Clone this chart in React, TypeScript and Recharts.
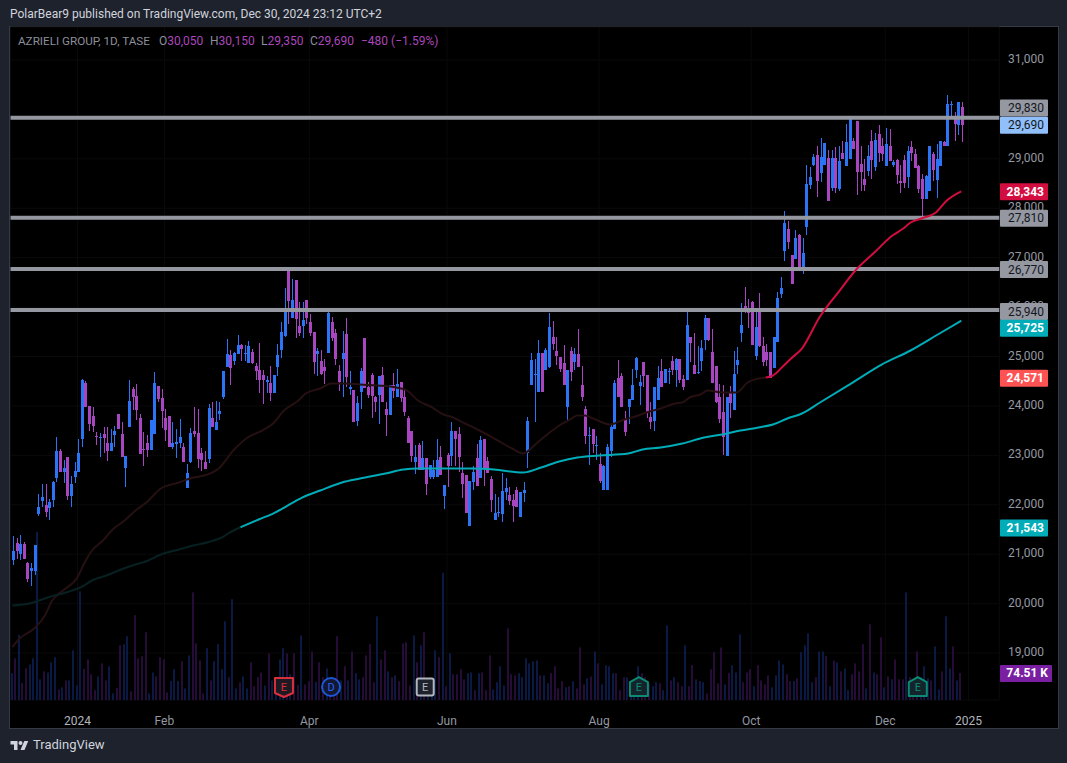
import {
  Bar,
  CartesianGrid,
  ComposedChart,
  Line,
  ReferenceDot,
  ReferenceLine,
  XAxis,
  YAxis,
} from 'recharts';

const FONT = 'Roboto, "Noto Sans", sans-serif';

const UP = '#2b74f6';
const DOWN = '#a845c0';
const UP_VOL = '#0b1a44';
const DOWN_VOL = '#260d38';

// open, high, low, close per session
const ohlc: number[][] = [
  [20880,21360,20790,21070],[21220,21330,20910,21060],[21010,21380,20880,21200],[21200,21250,20910,20910],[20830,20850,20430,20490],
  [20670,20830,20350,20730],[20670,21180,20570,21180],[21820,22220,21780,21950],[22070,22430,21950,22150],[21990,22430,21750,21860],
  [21930,22110,21700,22050],[22090,22490,21950,22470],[22550,23380,22470,23080],[23080,23120,22670,22670],[22670,22900,22450,22750],
  [22960,22960,22090,22170],[22170,22590,21950,22430],[22570,22860,22450,22690],[22670,23340,22670,23040],[23340,24540,23160,24530],
  [24470,24510,23970,23970],[23990,23990,23500,23630],[23790,23970,23480,23600],[23400,23480,23200,23380],[23360,23460,22960,23380],
  [23440,23580,23040,23360],[23260,23580,22880,23080],[23080,23540,23080,23260],[23420,23600,23160,23500],[23830,23830,23540,23540],
  [23440,23670,22960,22960],[22750,22980,22350,22980],[23580,24530,23580,24110],[24350,24390,23910,24190],[24210,24450,23710,23910],
  [23750,23830,23020,23020],[23130,23480,22790,23110],[23260,23420,22960,23100],[23100,23710,23100,23710],[23440,24680,23440,24470],
  [24410,24410,24070,24150],[24170,24350,23560,23890],[23750,23930,23300,23520],[23790,23790,23160,23160],[23160,23670,23120,23260],
  [23240,23540,22940,23280],[23260,23730,23140,23380],[23160,23260,22860,22860],[22330,22820,22330,22650],[22860,23560,22840,23460],
  [23500,23970,23380,23440],[23460,23930,22750,22920],[23040,23140,22690,22900],[22860,23080,22730,22730],[22920,24030,22840,23950],
  [23750,24070,23580,23580],[23520,24110,23520,23670],[23830,24070,23710,23890],[24190,24700,24150,24700],[24780,25360,24780,25060],
  [25040,25140,24430,24760],[24900,25100,24820,25080],[25060,25430,25060,25240],[25240,25260,24900,25160],[25070,25240,24900,25080],
  [24860,25320,24860,25220],[25100,25160,24840,24860],[24800,24860,24520,24700],[24720,25280,24270,24530],[24620,24720,24030,24530],
  [24490,24600,24270,24530],[24470,24800,24110,24270],[24270,24620,24270,24620],[24780,25260,24600,25040],[25140,25690,24980,25490],
  [25410,26380,25400,25950],[26740,26740,25650,26130],[25770,26560,25770,26150],[26540,26540,25370,25750],[25610,26110,25410,25470],
  [25610,26110,25370,25730],[26150,26150,25650,25770],[25690,25870,25410,25470],[25490,25490,24640,24880],[25060,25180,24600,25120],
  [24900,25140,24620,24640],[24780,24940,24450,24700],[25080,25930,25080,25890],[25690,25790,25320,25380],[25470,25550,24820,24960],
  [24700,24820,24310,24490],[24960,25510,24190,25080],[25450,25770,24390,24580],[24350,24700,24230,24390],[24330,24330,23670,23670],
  [23690,24210,23600,24050],[24290,24760,23930,24700],[25370,25370,24370,24370],[24390,24490,24170,24230],[24620,24660,23750,24210],
  [24190,24210,23870,24070],[24230,24600,23630,24600],[24620,24780,24070,24070],[23930,24090,23400,23810],[23810,24430,23810,24430],
  [24430,24660,24170,24310],[24190,24740,24190,24450],[24490,24490,24090,24170],[24190,24330,23790,23870],[23750,23790,23260,23260],
  [23500,23500,22860,22980],[22860,23200,22630,22960],[23200,23260,22710,22710],[22710,23300,22710,22940],[22940,22940,22190,22430],
  [22570,22800,22530,22800],[22570,22900,22530,22710],[22570,23340,22570,22900],[22960,23180,22610,22610],[22170,22410,21910,22410],
  [23000,23040,22370,22780],[22980,23680,22780,23500],[23500,23500,22780,23340],[23440,23580,22670,22960],[22650,22860,22130,22430],
  [22610,22610,21840,21840],[21580,22490,21580,22490],[22470,22780,22290,22670],[22940,23220,22390,22390],[22550,23400,22550,23320],
  [23340,23340,22390,22750],[22880,22960,22650,22650],[22530,22590,21860,22090],[21700,22210,21700,21840],[21830,22150,21760,21850],
  [21820,22650,21660,22270],[22250,22550,22090,22330],[22190,22370,21990,22070],[22090,22210,21660,21970],[22290,22350,21950,21950],
  [21760,22250,21760,22250],[22230,22470,22050,22290],[23040,23770,22750,23690],[24430,25080,24430,24920],[24630,24940,23670,24650],
  [24290,25340,24290,25080],[25080,25080,24290,24290],[24720,25180,24720,25140],[24780,25890,24760,25590],[25390,25710,25140,25260],
  [25120,25390,24820,25020],[25000,25000,24680,24740],[24860,25240,24430,24430],[23970,24720,23710,24720],[25120,25200,24500,24680],
  [24880,25180,24720,25060],[25060,25550,24780,24780],[24430,24800,24110,24190],[23930,23990,23220,23400],[23400,23580,22800,23420],
  [23540,23540,23040,23240],[23190,23400,22900,23200],[22820,23040,22450,22490],[22290,22800,22290,22790],[22290,23220,22290,23160],
  [23080,23620,22960,23580],[23540,24530,23540,24470],[24560,24920,24190,24190],[24600,24660,23970,23970],[23730,23890,23400,23480],
  [23970,24150,23630,24150],[24130,24740,24130,24430],[24720,25000,24560,24980],[24410,24620,24010,24490],[24880,24880,24390,24600],
  [24620,24620,23750,23850],[23770,24070,23540,23670],[23690,24390,23500,24390],[24130,24800,24130,24570],[24700,24940,24390,24390],
  [24470,24740,24470,24740],[24680,24760,24450,24700],[24900,25020,24620,24720],[24720,24980,24390,24960],[24960,24960,24470,24520],
  [24540,24620,24330,24390],[24520,25930,24520,25630],[25390,25390,24880,25280],[24820,25470,24640,24640],[24660,25220,24650,24680],
  [24900,25340,24700,25180],[25340,25850,25140,25770],[25770,25770,25320,25340],[25100,25550,24470,24470],[24800,24800,24050,24090],
  [24190,24450,23650,23730],[23870,24430,23000,23380],[22980,24190,22980,24190],[24290,24410,23750,24050],[23910,25120,23910,24640],
  [24820,25200,24640,24920],[25470,26090,25300,25630],[26030,26400,25890,25930],[25970,26170,25570,25890],[26110,26130,25240,25240],
  [25020,25930,24920,25590],[25930,26280,25200,25220],[25220,25400,24800,24880],[25100,25260,24800,24920],[25100,25100,24560,24560],
  [24760,25400,24760,25400],[25300,26300,25300,26190],[26260,26600,26190,26380],[27130,27950,26940,27710],[27590,27750,27170,27310],
  [27060,27060,26460,26460],[26980,27570,26980,27390],[27450,27470,26820,26820],[26760,27390,26680,27090],[27630,28870,27450,28500],
  [28480,28830,28380,28640],[28870,29100,28860,29030],[29070,29250,28220,28560],[28720,29430,28540,29030],[28870,29330,28870,29330],
  [29010,29170,28140,28140],[28420,29170,28340,29010],[29010,29230,28300,28420],[28400,29270,28340,28950],[29110,29370,28990,28990],
  [28850,29700,28850,29350],[28990,29840,28990,29800],[29370,29430,29190,29190],[29760,29760,28260,28740],[28890,29270,28340,28740],
  [28600,28990,28340,28480],[28760,29290,28660,29050],[29370,29590,28600,28970],[28830,29530,28760,29390],[29510,29680,28930,29110],
  [29250,29430,28950,29090],[28850,29630,28850,29310],[29270,29610,28950,28950],[28870,28970,28830,28930],[28970,28990,28500,28680],
  [28560,28870,28300,28520],[28970,29070,28420,28520],[28640,29250,28420,29150],[29230,29370,28950,29110],[29090,29190,28820,28820],
  [28850,28870,28300,28380],[28600,28700,27790,28180],[28180,28680,28180,28660],[28340,29270,28340,29250],[29090,29140,28560,28780],
  [28580,29310,28200,28990],[28850,29370,28850,29370],[29350,29370,29270,29270],[29270,30300,29270,30100],[30110,30180,29800,30120],
  [29820,29940,29370,29710],[29680,30160,29490,30160],[30050,30150,29350,29690],
];

// thousands of shares per session
const volumes = [
  74,115,180,47,88,98,115,464,57,79,
  76,104,118,29,35,54,54,137,40,300,
  86,112,71,27,65,101,54,93,18,33,
  151,154,176,24,234,115,121,187,18,76,
  65,118,112,21,52,85,52,107,32,123,
  297,156,109,18,143,54,107,154,85,217,
  63,278,32,49,65,32,104,38,63,76,
  40,129,54,45,112,143,129,71,129,42,
  178,43,52,134,50,104,63,87,50,45,
  176,54,93,54,134,74,57,63,123,154,
  49,231,112,137,79,63,68,52,156,159,
  40,178,104,151,187,45,40,137,118,351,
  38,129,71,71,85,57,74,76,27,74,
  76,27,123,29,49,93,40,198,71,68,
  74,63,115,101,107,109,68,68,46,74,
  93,32,52,35,38,52,32,145,43,60,
  65,134,101,43,96,93,74,74,27,63,
  63,50,50,93,74,63,45,38,49,46,
  27,206,54,63,49,38,151,38,96,57,
  52,49,18,85,132,46,145,43,74,96,
  76,181,49,76,85,38,96,54,43,68,
  35,68,109,98,71,52,52,60,132,151,
  184,49,63,134,134,121,38,109,104,79,
  87,27,71,101,79,154,32,209,76,71,
  173,35,65,57,112,57,57,297,63,54,
  134,63,93,60,54,148,29,79,231,87,
  148,54,74.51,
];

const ma50Bars = [0,2,6,9,11,14,18,20,22,25,28,31,34,37,41,46,50,53,57,61,65,69,72,75,79,81,85,88,92,96,101,106,109,112,116,119,121,125,129,134,138,141,145,148,151,154,156,158,161,165,169,172,175,179,183,185,187,190,192,196,200,203,206,208,210,213,215,218,223,228,233,238,243,246,248,251,255,258,262];
const ma50Values = [19118,19294,19496,19759,20063,20265,20534,20838,21075,21277,21520,21682,21884,22046,22329,22451,22552,22592,22734,23098,23361,23503,23645,23908,24110,24252,24353,24454,24454,24434,24413,24373,24312,24110,23968,23827,23786,23645,23503,23301,23139,23038,23260,23442,23604,23726,23807,23807,23726,23624,23726,23786,23867,23948,24049,24070,24171,24231,24312,24272,24272,24474,24555,24575,24616,24818,24960,25162,25810,26295,26761,27105,27449,27590,27712,27793,27914,28157,28343];
const ma50BrightFrom = 208;

const ma200Bars = [0,5,10,15,19,22,26,30,34,37,41,46,50,54,58,60,63,68,72,76,80,85,91,96,103,108,112,120,127,133,141,146,151,156,162,170,174,179,185,191,196,201,206,210,214,218,223,232,240,248,256,262];
const ma200Values = [19962,20008,20130,20231,20332,20468,20569,20690,20791,20858,20994,21095,21176,21243,21344,21439,21546,21702,21823,21985,22147,22289,22451,22532,22633,22714,22734,22734,22734,22714,22653,22754,22876,22957,22997,23038,23118,23159,23240,23361,23422,23503,23564,23624,23746,23847,24070,24474,24838,25122,25466,25725];
const ma200BrightFrom = 63;

const SLOTS = 273;

const PRICE_DOMAIN = [18050, 31668];
// 30,000 sits fully behind the 29,830 tag in the source chart
const priceTicks = [31000,29000,28000,27000,26000,25000,24000,23000,22000,21000,20000,19000];

const timeTickBars = [18,42,82,120,162,204,241,264];
const timeTickLabels = ['2024','Feb','Apr','Jun','Aug','Oct','Dec','2025'];

const levels = [29830, 27810, 26770, 25940];

const priceTags = [
  { price: 29830, text: '29,830', bg: '#9598a1', fg: '#131722', bold: false },
  { price: 29690, text: '29,690', bg: '#90bff9', fg: '#131722', bold: false },
  { price: 28343, text: '28,343', bg: '#d30d3f', fg: '#ffffff', bold: true },
  { price: 27810, text: '27,810', bg: '#9598a1', fg: '#131722', bold: false },
  { price: 26770, text: '26,770', bg: '#9598a1', fg: '#131722', bold: false },
  { price: 25940, text: '25,940', bg: '#9598a1', fg: '#131722', bold: false },
  { price: 25725, text: '25,725', bg: '#00acb8', fg: '#ffffff', bold: true },
  { price: 24571, text: '24,571', bg: '#ff5252', fg: '#ffffff', bold: true },
  { price: 21543, text: '21,543', bg: '#00acb8', fg: '#ffffff', bold: true },
];
const tagNudge: Record<number, number> = { 29830: -10.3, 25725: 7, 25940: 1 };

const events = [
  { bar: 75, letter: 'E', kind: 'miss' },
  { bar: 88, letter: 'D', kind: 'dividend' },
  { bar: 114, letter: 'E', kind: 'neutral' },
  { bar: 173, letter: 'E', kind: 'beat' },
  { bar: 250, letter: 'E', kind: 'beat' },
];
const EVENT_PRICE = 18313;

const rows = Array.from({ length: SLOTS }, (_, bar) => {
  const candle = ohlc[bar];
  const ma50At = ma50Bars.indexOf(bar);
  const ma200At = ma200Bars.indexOf(bar);
  const ma50 = ma50At >= 0 ? ma50Values[ma50At] : null;
  const ma200 = ma200At >= 0 ? ma200Values[ma200At] : null;
  return {
    bar,
    candle: candle ? [candle[2], candle[1]] : null,
    ohlc: candle ?? null,
    volume: candle ? volumes[bar] : null,
    ma50Dim: bar <= ma50BrightFrom ? ma50 : null,
    ma50Bright: bar >= ma50BrightFrom ? ma50 : null,
    ma200Dim: bar <= ma200BrightFrom ? ma200 : null,
    ma200Bright: bar >= ma200BrightFrom ? ma200 : null,
  };
});

function CandleShape(props: any) {
  const { x, y, width, height, payload } = props;
  if (!payload?.ohlc) return null;
  const [open, high, low, close] = payload.ohlc;
  const cx = Math.round(x + width / 2 - 0.5) + 0.5;
  const perPrice = height / (high - low);
  const toY = (p: number) => Math.round(y + (high - p) * perPrice);
  const color = close >= open ? UP : DOWN;
  const top = toY(Math.max(open, close));
  const bodyH = Math.max(toY(Math.min(open, close)) - top, 1);
  return (
    <g>
      <line x1={cx} x2={cx} y1={toY(high)} y2={toY(low)} stroke={color} strokeWidth={1} />
      <rect x={cx - 1.5} y={top} width={3} height={bodyH} fill={color} />
    </g>
  );
}

function VolumeShape(props: any) {
  const { x, y, width, height, payload } = props;
  if (!payload?.ohlc || !height) return null;
  const [open, , , close] = payload.ohlc;
  const left = Math.round(x + width / 2 - 1);
  return <rect x={left} y={y} width={2} height={height} fill={close >= open ? UP_VOL : DOWN_VOL} />;
}

function TimeTick(props: any) {
  const { x, y, payload } = props;
  const label = timeTickLabels[timeTickBars.indexOf(payload.value)];
  const isYear = label === '2024' || label === '2025';
  return (
    <text x={x} y={y + 17} textAnchor="middle" fontFamily={FONT} fontSize={12} fill={isYear ? '#b2b5be' : '#9598a1'}>
      {label}
    </text>
  );
}

function PriceTick(props: any) {
  const { y, payload } = props;
  return (
    <text x={1008} y={y + 3} fontFamily={FONT} fontSize={12} fill="#9598a1">
      {payload.value.toLocaleString('en-US')}
    </text>
  );
}

function Tag(props: any) {
  const { viewBox, text, bg, fg, bold, nudge = 0, tagWidth = 48 } = props;
  const left = viewBox.x + viewBox.width + 0.7;
  const cy = viewBox.y + nudge + 0.5;
  return (
    <g>
      <rect x={left} y={cy - 8.5} width={tagWidth} height={17} rx={1} fill={bg} />
      <text
        x={left + tagWidth - 4}
        y={cy + 4}
        textAnchor="end"
        fontFamily={FONT}
        fontSize={12}
        fontWeight={bold ? 700 : 400}
        fill={fg}
      >
        {text}
      </text>
    </g>
  );
}

function EventBadge(props: any) {
  const { cx, cy, letter, kind } = props;
  const palette: Record<string, { stroke: string; fill: string; text: string }> = {
    miss: { stroke: '#d9303e', fill: '#1f1a22', text: '#d9303e' },
    dividend: { stroke: '#1f56d8', fill: '#111830', text: '#2962ff' },
    neutral: { stroke: '#b2b5be', fill: '#1e222d', text: '#b2b5be' },
    beat: { stroke: '#0c8a74', fill: '#13242a', text: '#0c8a74' },
  };
  const c = palette[kind];
  let outline = <rect x={cx - 8.5} y={cy - 8.5} width={17} height={17} rx={2} fill={c.fill} stroke={c.stroke} strokeWidth={2} />;
  if (kind === 'dividend') {
    outline = <circle cx={cx} cy={cy} r={9} fill={c.fill} stroke={c.stroke} strokeWidth={2} />;
  } else if (kind === 'miss') {
    outline = (
      <path
        d={`M${cx - 9} ${cy - 9}H${cx + 9}V${cy + 6}L${cx} ${cy + 10}L${cx - 9} ${cy + 6}Z`}
        fill={c.fill}
        stroke={c.stroke}
        strokeWidth={2}
        strokeLinejoin="round"
      />
    );
  } else if (kind === 'beat') {
    outline = (
      <path
        d={`M${cx - 9} ${cy + 9}H${cx + 9}V${cy - 5}L${cx} ${cy - 10}L${cx - 9} ${cy - 5}Z`}
        fill={c.fill}
        stroke={c.stroke}
        strokeWidth={2}
        strokeLinejoin="round"
      />
    );
  }
  return (
    <g>
      {outline}
      <text x={cx} y={cy + 4} textAnchor="middle" fontFamily={FONT} fontSize={11} fill={c.text}>
        {letter}
      </text>
    </g>
  );
}

const chartMargin = { top: 27, left: 10.5, right: 17.7, bottom: 36 };

const legendStyle: React.CSSProperties = {
  position: 'absolute',
  top: 33,
  height: 16,
  fontSize: 12,
  lineHeight: '16px',
  color: '#8c8f99',
  whiteSpace: 'nowrap',
};

export default function App() {
  return (
    <div
      style={{
        position: 'absolute',
        left: 0,
        top: 0,
        width: 1067,
        height: 763,
        background: '#1e222d',
        overflow: 'hidden',
        fontFamily: FONT,
      }}
    >
      <div style={{ position: 'absolute', left: 10, top: 6, fontSize: 12, lineHeight: '16px', color: '#d1d4dc', whiteSpace: 'nowrap' }}>
        PolarBear9 published on TradingView.com, Dec 30, 2024 23:12 UTC+2
      </div>

      {/* pane frame */}
      <div
        style={{
          position: 'absolute',
          left: 9,
          top: 26,
          width: 1048,
          height: 701,
          background: '#000',
          border: '1px solid #363a45',
        }}
      />

      <div style={{ position: 'absolute', left: 0, top: 0 }}>
        <ComposedChart width={1067} height={763} data={rows} margin={chartMargin} barCategoryGap={0}>
          <CartesianGrid yAxisId="price" stroke="#0a0a0c" />
          <XAxis
            dataKey="bar"
            type="category"
            ticks={timeTickBars}
            interval={0}
            axisLine={false}
            tickLine={false}
            height={27}
            tick={<TimeTick />}
          />
          <YAxis
            yAxisId="price"
            orientation="right"
            domain={PRICE_DOMAIN}
            ticks={priceTicks}
            interval={0}
            allowDataOverflow
            axisLine={false}
            tickLine={false}
            width={50}
            tick={<PriceTick />}
          />
          <YAxis yAxisId="volume" hide domain={[0, 1857]} allowDataOverflow />

          {levels.map((level) => (
            <ReferenceLine key={level} yAxisId="price" y={level} stroke="#9598a1" strokeWidth={4} />
          ))}

          <Bar yAxisId="volume" dataKey="volume" shape={<VolumeShape />} isAnimationActive={false} />

          <Line yAxisId="price" type="monotone" dataKey="ma50Dim" stroke="#261012" strokeWidth={2} dot={false} connectNulls isAnimationActive={false} />
          <Line yAxisId="price" type="monotone" dataKey="ma50Bright" stroke="#d30d3f" strokeWidth={2} dot={false} connectNulls isAnimationActive={false} />
          <Line yAxisId="price" type="monotone" dataKey="ma200Dim" stroke="#072122" strokeWidth={2} dot={false} connectNulls isAnimationActive={false} />
          <Line yAxisId="price" type="monotone" dataKey="ma200Bright" stroke="#00acb8" strokeWidth={2} dot={false} connectNulls isAnimationActive={false} />

          <Bar yAxisId="price" dataKey="candle" shape={<CandleShape />} isAnimationActive={false} />

          {events.map((ev) => (
            <ReferenceDot
              key={ev.bar}
              yAxisId="price"
              x={ev.bar}
              y={EVENT_PRICE}
              shape={(p: any) => <EventBadge {...p} letter={ev.letter} kind={ev.kind} />}
            />
          ))}
        </ComposedChart>
      </div>

      {/* price tags sit over the axis labels, so they get their own layer */}
      <div style={{ position: 'absolute', left: 0, top: 0 }}>
        <ComposedChart width={1067} height={763} data={rows} margin={chartMargin}>
          <XAxis dataKey="bar" type="category" axisLine={false} tickLine={false} tick={false} height={27} />
          <YAxis yAxisId="price" orientation="right" domain={PRICE_DOMAIN} allowDataOverflow axisLine={false} tickLine={false} tick={false} width={50} />
          <YAxis yAxisId="volume" hide domain={[0, 1857]} allowDataOverflow />
          {priceTags.map((tag) => (
            <ReferenceLine
              key={tag.price}
              yAxisId="price"
              y={tag.price}
              stroke="none"
              label={<Tag text={tag.text} bg={tag.bg} fg={tag.fg} bold={tag.bold} nudge={tagNudge[tag.price]} />}
            />
          ))}
          <ReferenceLine
            yAxisId="volume"
            y={74.51}
            stroke="none"
            label={<Tag text="74.51 K" bg="#7b1fa2" fg="#ffffff" bold tagWidth={52} />}
          />
        </ComposedChart>
      </div>

      {/* symbol legend */}
      <div style={{ ...legendStyle, left: 18, fontSize: 11.7 }}>AZRIELI GROUP, 1D, TASE</div>
      <div style={{ ...legendStyle, left: 159 }}>
        O<span style={{ color: '#ab47bc' }}>30,050</span>
      </div>
      <div style={{ ...legendStyle, left: 210 }}>
        H<span style={{ color: '#ab47bc' }}>30,150</span>
      </div>
      <div style={{ ...legendStyle, left: 261 }}>
        L<span style={{ color: '#ab47bc' }}>29,350</span>
      </div>
      <div style={{ ...legendStyle, left: 310 }}>
        C<span style={{ color: '#ab47bc' }}>29,690</span>
      </div>
      <div style={{ ...legendStyle, left: 361, color: '#ab47bc' }}>−480 (−1.59%)</div>

      {/* footer logo */}
      <svg style={{ position: 'absolute', left: 10, top: 739 }} width={19} height={14} viewBox="0 0 36 28">
        <path d="M14 22H7V11H0V4h14v18zM28 22h-8l7.5-18h8L28 22z" fill="#d1d4dc" />
        <circle cx={20} cy={8} r={4} fill="#d1d4dc" />
      </svg>
      <div style={{ position: 'absolute', left: 33, top: 736, fontSize: 13, lineHeight: '18px', color: '#d1d4dc', whiteSpace: 'nowrap' }}>
        TradingView
      </div>
    </div>
  );
}
